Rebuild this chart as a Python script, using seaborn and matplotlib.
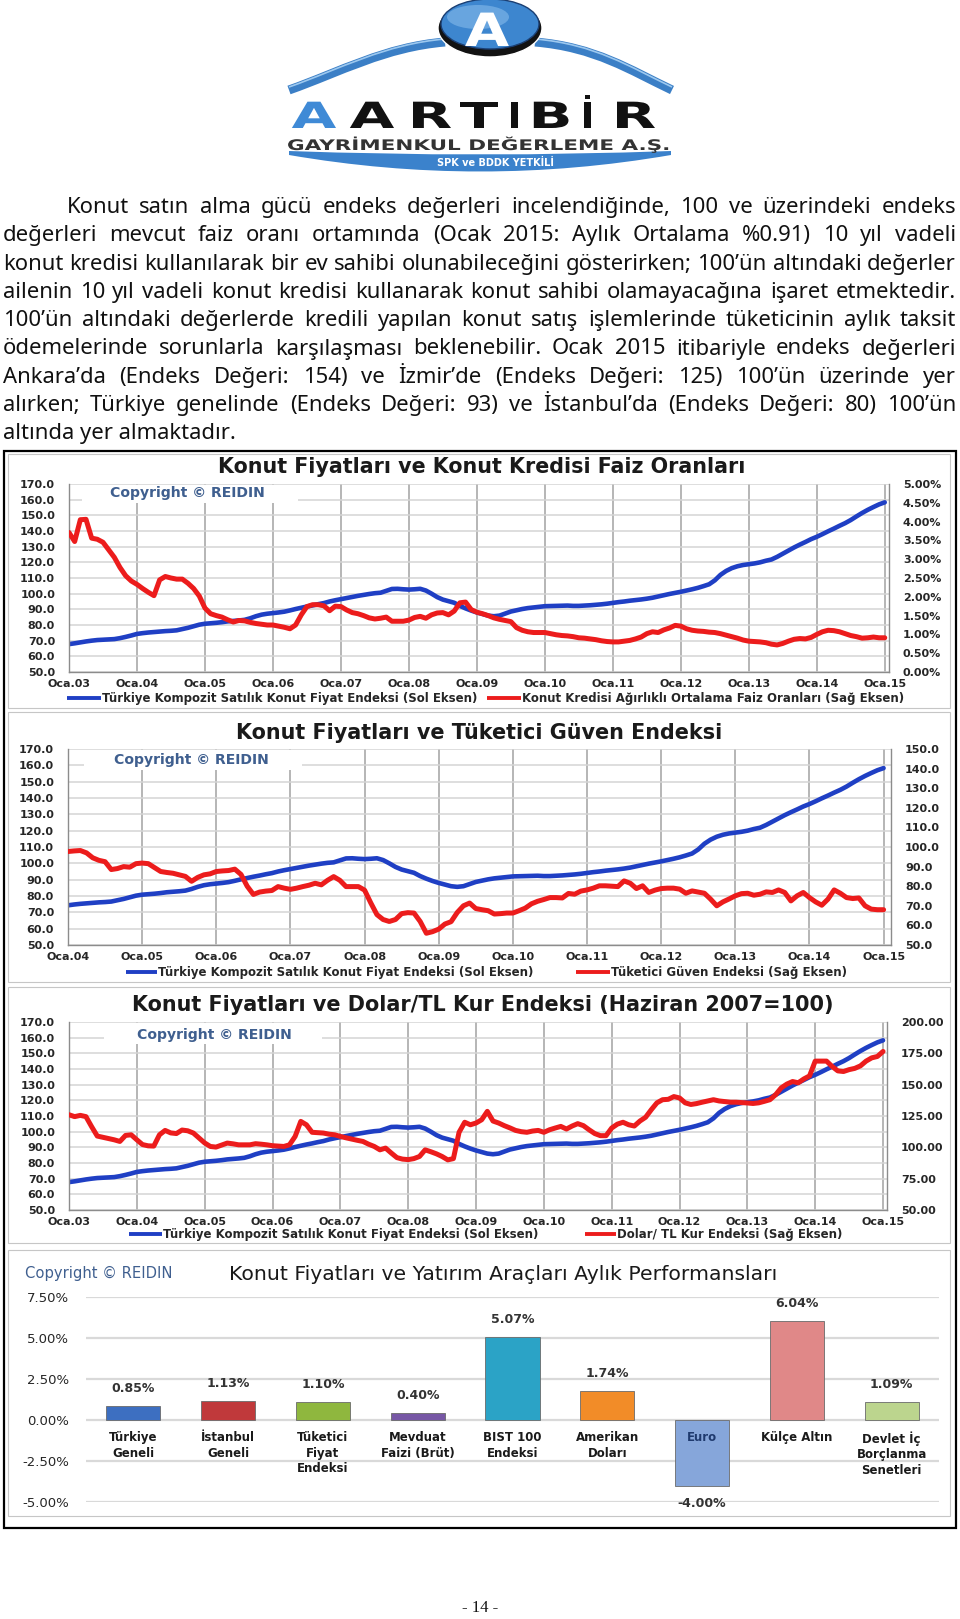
import numpy as np
import seaborn as sns
import matplotlib
matplotlib.use("Agg")
from matplotlib import pyplot as plt
from matplotlib.patches import Rectangle, Ellipse, PathPatch
from matplotlib.path import Path
from matplotlib.patheffects import AbstractPathEffect
from matplotlib.transforms import Affine2D

# ---------------- data ----------------
etiket_03 = ["Oca.03", "Oca.04", "Oca.05", "Oca.06", "Oca.07", "Oca.08", "Oca.09",
             "Oca.10", "Oca.11", "Oca.12", "Oca.13", "Oca.14", "Oca.15"]
etiket_04 = etiket_03[1:]

# Türkiye Kompozit Satılık Konut Fiyat Endeksi, Oca.03 - Oca.15 (aylık)
konut_endeksi = [
    67.8, 68.3, 68.9, 69.5, 70.0, 70.4, 70.6, 70.8, 71.0, 71.6, 72.4, 73.3,
    74.3, 74.8, 75.2, 75.5, 75.8, 76.1, 76.3, 76.6, 77.4, 78.2, 79.2, 80.2,
    80.8, 81.1, 81.4, 81.8, 82.3, 82.6, 82.9, 83.3, 84.3, 85.6, 86.6, 87.2,
    87.6, 88.0, 88.5, 89.3, 90.2, 91.0, 91.8, 92.5, 93.3, 94.0, 95.0, 95.8,
    96.5, 97.2, 97.9, 98.6, 99.2, 99.8, 100.3, 100.6, 101.8, 103.0, 103.1, 102.8,
    102.6, 102.8, 103.1, 102.0, 100.0, 97.8, 96.2, 95.2, 94.2, 92.2, 90.6, 89.2,
    88.0, 87.0, 86.0, 85.6, 86.0, 87.3, 88.6, 89.4, 90.2, 90.8, 91.2, 91.6,
    92.0, 92.1, 92.2, 92.3, 92.4, 92.2, 92.2, 92.4, 92.6, 92.9, 93.2, 93.6,
    94.1, 94.6, 95.0, 95.5, 95.9, 96.3, 96.8, 97.4, 98.2, 99.0, 99.8, 100.5,
    101.2, 102.0, 102.8, 103.7, 104.8, 106.0, 108.5, 112.0, 114.5, 116.3, 117.5, 118.3,
    118.8, 119.3, 120.0, 121.0, 121.8, 123.5, 125.5, 127.5, 129.5, 131.3, 133.0, 134.8,
    136.3, 138.0, 139.8, 141.5, 143.3, 145.0, 147.0, 149.3, 151.5, 153.5, 155.3, 157.0,
    158.3]

# Konut Kredisi Ağırlıklı Ortalama Faiz Oranları (%), Oca.03 - Oca.15
faiz_orani = [
    3.71, 3.47, 4.05, 4.06, 3.56, 3.53, 3.45, 3.25, 3.05, 2.78, 2.56, 2.42,
    2.33, 2.22, 2.12, 2.03, 2.45, 2.54, 2.50, 2.47, 2.47, 2.36, 2.22, 2.02,
    1.70, 1.55, 1.50, 1.46, 1.39, 1.33, 1.37, 1.36, 1.32, 1.29, 1.27, 1.25,
    1.25, 1.22, 1.19, 1.15, 1.25, 1.52, 1.74, 1.79, 1.79, 1.76, 1.63, 1.75,
    1.74, 1.65, 1.58, 1.55, 1.50, 1.44, 1.41, 1.43, 1.46, 1.35, 1.35, 1.35,
    1.38, 1.45, 1.48, 1.43, 1.52, 1.57, 1.58, 1.52, 1.62, 1.84, 1.86, 1.66,
    1.59, 1.55, 1.50, 1.44, 1.40, 1.37, 1.34, 1.18, 1.11, 1.07, 1.05, 1.05,
    1.05, 1.02, 0.99, 0.97, 0.96, 0.94, 0.91, 0.90, 0.88, 0.86, 0.83, 0.81,
    0.80, 0.80, 0.82, 0.84, 0.88, 0.93, 1.02, 1.07, 1.05, 1.12, 1.17, 1.24,
    1.22, 1.15, 1.11, 1.09, 1.08, 1.06, 1.05, 1.02, 0.98, 0.94, 0.90, 0.85,
    0.82, 0.81, 0.80, 0.78, 0.74, 0.72, 0.76, 0.82, 0.87, 0.89, 0.88, 0.92,
    1.00, 1.07, 1.11, 1.10, 1.07, 1.02, 0.97, 0.94, 0.90, 0.91, 0.93, 0.91,
    0.91]

# Tüketici Güven Endeksi, Oca.04 - Oca.15
guven_endeksi = [
    97.7, 98.0, 98.2, 97.0, 94.5, 93.2, 92.5, 88.5, 89.0, 90.0, 89.7, 91.5,
    91.8, 91.5, 89.5, 87.5, 87.0, 86.6, 85.8, 85.0, 82.5, 84.5, 85.8, 86.3,
    87.5, 87.8, 88.0, 88.7, 86.0, 80.0, 75.8, 77.0, 77.5, 77.8, 79.8, 79.0,
    78.4, 79.0, 79.8, 80.5, 81.5, 80.7, 83.0, 84.9, 83.0, 79.8, 79.8, 79.8,
    78.0, 71.5, 65.5, 63.0, 62.0, 63.0, 66.0, 66.5, 66.3, 62.0, 56.0, 56.8,
    58.1, 60.7, 61.9, 66.6, 70.0, 71.4, 68.6, 68.0, 67.5, 65.8, 66.0, 66.3,
    66.3, 67.5, 68.8, 71.0, 72.3, 73.2, 74.2, 74.2, 74.0, 76.3, 75.9, 77.5,
    78.1, 79.0, 80.2, 80.2, 80.0, 79.8, 82.7, 81.5, 78.8, 80.2, 76.8, 78.0,
    78.8, 79.0, 79.0, 78.5, 76.4, 77.6, 77.0, 76.4, 73.4, 70.0, 72.0, 73.5,
    75.1, 76.2, 76.4, 75.4, 75.9, 77.1, 76.8, 78.1, 76.8, 72.5, 75.1, 76.8,
    74.2, 72.0, 70.3, 73.4, 78.1, 76.4, 74.2, 73.7, 74.0, 70.0, 68.3, 68.0,
    68.0]

# Dolar/TL Kur Endeksi (Haziran 2007=100), Oca.03 - Oca.15
dolar_endeksi = [
    126.0, 124.5, 125.5, 124.5, 116.5, 109.0, 108.0, 107.0, 106.0, 104.7, 109.5, 110.0,
    106.0, 102.2, 101.2, 101.0, 110.0, 113.5, 111.5, 111.0, 113.8, 113.2, 111.4, 107.5,
    103.5, 100.7, 100.2, 101.8, 103.4, 102.8, 102.0, 102.0, 102.0, 102.9, 102.5, 102.0,
    101.3, 101.0, 100.7, 102.0, 108.7, 120.7, 118.0, 112.0, 111.7, 111.4, 110.5, 110.0,
    108.7, 107.6, 106.6, 105.6, 104.7, 102.5, 100.7, 98.0, 99.4, 95.5, 91.8, 90.6,
    90.2, 91.0, 92.7, 98.0, 96.5, 94.8, 92.7, 90.0, 91.0, 112.0, 120.0, 118.0,
    119.4, 122.0, 128.7, 121.0, 119.4, 117.3, 115.5, 113.5, 112.5, 112.0, 113.0, 113.5,
    112.0, 114.0, 115.4, 116.7, 114.6, 117.0, 118.9, 117.3, 114.0, 111.0, 109.3, 109.3,
    115.4, 118.5, 120.0, 118.0, 117.0, 121.0, 124.0, 130.0, 135.5, 138.0, 138.3, 140.5,
    139.4, 135.5, 134.2, 134.9, 136.0, 137.0, 138.0, 137.0, 136.5, 136.0, 136.0, 135.7,
    135.4, 135.0, 135.5, 136.7, 138.0, 142.0, 147.5, 150.5, 152.5, 151.5, 154.6, 157.0,
    168.8, 168.8, 168.8, 164.5, 161.0, 160.5, 162.0, 163.0, 165.0, 168.8, 171.4, 172.5,
    176.5]

araclar = ["Türkiye\nGeneli", "İstanbul\nGeneli", "Tüketici\nFiyat\nEndeksi",
           "Mevduat\nFaizi (Brüt)", "BIST 100\nEndeksi", "Amerikan\nDoları",
           "Euro", "Külçe Altın", "Devlet İç\nBorçlanma\nSenetleri"]
getiriler = [0.85, 1.13, 1.10, 0.40, 5.07, 1.74, -4.00, 6.04, 1.09]
arac_renkleri = ["#3d6fc1", "#c0393b", "#8fb73e", "#7757a5", "#2ba3c6",
                 "#f28c28", "#86a6da", "#e08888", "#bcd58e"]

paragraf = [
    "Konut satın alma gücü endeks değerleri incelendiğinde, 100 ve üzerindeki endeks",
    "değerleri mevcut faiz oranı ortamında (Ocak 2015: Aylık Ortalama %0.91) 10 yıl vadeli",
    "konut kredisi kullanılarak bir ev sahibi olunabileceğini gösterirken; 100’ün altındaki değerler",
    "ailenin 10 yıl vadeli konut kredisi kullanarak konut sahibi olamayacağına işaret etmektedir.",
    "100’ün altındaki değerlerde kredili yapılan konut satış işlemlerinde tüketicinin aylık taksit",
    "ödemelerinde sorunlarla karşılaşması beklenebilir. Ocak 2015 itibariyle endeks değerleri",
    "Ankara’da (Endeks Değeri: 154) ve İzmir’de (Endeks Değeri: 125) 100’ün üzerinde yer",
    "alırken; Türkiye genelinde (Endeks Değeri: 93) ve İstanbul’da (Endeks Değeri: 80) 100’ün",
    "altında yer almaktadır.",
]

MAVI = "#1f3fc4"
KIRMIZI = "#ec1c1c"
YAZI = "#262626"
COPY = "#3f5f8f"

sns.set_style("white")
plt.rcParams["font.family"] = ["DejaVu Sans"]

W, H = 960, 1619
fig = plt.figure(figsize=(W / 100, H / 100), dpi=100)
renderer = fig.canvas.get_renderer()


class Genis(AbstractPathEffect):
    """stretch text glyphs horizontally around a pixel x (logo lettering is wide)"""

    def __init__(self, sx, x_px):
        super().__init__()
        self.sx = sx
        self.x_px = x_px

    def draw_path(self, renderer, gc, tpath, affine, rgbFace=None):
        a = affine + Affine2D().translate(-self.x_px, 0).scale(self.sx, 1).translate(self.x_px, 0)
        renderer.draw_path(gc, tpath, a, rgbFace)


def fbox(x0, y0, x1, y1):
    return [x0 / W, 1 - y1 / H, (x1 - x0) / W, (y1 - y0) / H]


def ftext(x, y, s, **kw):
    return fig.text(x / W, 1 - y / H, s, **kw)


def genislik(t):
    return t.get_window_extent(renderer).width


def fit_text(x, y, s, width, **kw):
    t = ftext(x, y, s, fontsize=10, **kw)
    t.set_fontsize(10 * width / genislik(t))
    return t


# page layer for frames, legend keys and logo (pixel coordinates, y down)
page = fig.add_axes([0, 0, 1, 1], zorder=-5)
page.set_xlim(0, W)
page.set_ylim(H, 0)
page.axis("off")

# ---------------- logo ----------------
kod = [Path.MOVETO, Path.CURVE4, Path.CURVE4, Path.CURVE4]
for pts in ([(289, 90), (340, 72), (385, 47), (445, 42)],
            [(535, 42), (595, 47), (630, 70), (672, 90)]):
    page.add_patch(PathPatch(Path(pts, kod), fill=False, ec="#3b7fc6", lw=6.5))
    page.add_patch(PathPatch(Path([(x, y - 3) for x, y in pts], kod), fill=False,
                             ec="#9cc8ef", lw=1.2))
page.add_patch(Ellipse((490, 28), 104, 58, fc="#121212"))
page.add_patch(Ellipse((490, 24), 98, 50, fc="#3d86cf", ec="#1b3f73", lw=1))
page.add_patch(Ellipse((478, 17), 62, 24, fc="#8cc0ee", alpha=0.55, lw=0))
a_harf = ftext(487, 46, "A", fontsize=33, fontweight="bold", color="white",
               ha="center", va="baseline")
a_harf.set_path_effects([Genis(1.25, 487)])

harfler = [("A", 314, "#3f8ad6"), ("A", 372, "#111111"), ("R", 430, "#111111"),
           ("T", 479, "#111111"), ("I", 514.5, "#111111"), ("B", 550.5, "#111111"),
           ("İ", 587.5, "#111111"), ("R", 634, "#111111")]
for h, hx, hc in harfler:
    t = ftext(hx, 128, h, fontsize=26, fontweight="bold", color=hc, ha="center", va="baseline")
    t.set_path_effects([Genis(1.6 if h not in ("I", "İ") else 1.1, hx)])

gd = ftext(480, 150, "GAYRİMENKUL DEĞERLEME A.Ş.", fontsize=10.5, ha="center",
           va="baseline", fontweight="bold", color="#333333")
gd.set_path_effects([Genis(386 / genislik(gd), 480)])
serit = Path([(289, 151), (480, 158), (671, 151), (671, 155), (480, 188), (289, 155), (289, 151)],
             [Path.MOVETO, Path.CURVE3, Path.CURVE3, Path.LINETO, Path.CURVE3, Path.CURVE3,
              Path.CLOSEPOLY])
page.add_patch(PathPatch(serit, fc="#3b82cc", ec="none"))
fit_text(495, 163, "SPK ve BDDK YETKİLİ", 118, ha="center", va="center",
         fontweight="bold", color="white")

# ---------------- paragraph (justified) ----------------
para_font = ["Noto Sans", "DejaVu Sans"]
sol_x, sag_x = 3, 956
ilk_x = 67
boyut = 16
for i, satir in enumerate(paragraf[:-1]):
    x0 = ilk_x if i == 0 else sol_x
    t = ftext(0, 0, satir, fontsize=10, family=para_font)
    boyut = min(boyut, 10 * (sag_x - x0) / genislik(t) * 0.995)
    t.remove()

for i, satir in enumerate(paragraf):
    y = 213 + i * 28.3
    x0 = ilk_x if i == 0 else sol_x
    if i == len(paragraf) - 1:
        ftext(x0, y, satir, fontsize=boyut, family=para_font, va="baseline", color="#111111")
        continue
    kelimeler = [ftext(0, y, k, fontsize=boyut, family=para_font, va="baseline",
                       color="#111111") for k in satir.split(" ")]
    ws = [genislik(k) for k in kelimeler]
    bosluk = (sag_x - x0 - sum(ws)) / (len(ws) - 1)
    x = x0
    for k, w in zip(kelimeler, ws):
        k.set_x(x / W)
        x += w + bosluk

# ---------------- frames ----------------
page.add_patch(Rectangle((4, 451), 952, 1077, fill=False, ec="black", lw=1.6))
for x0, y0, x1, y1 in [(8, 454, 950, 708), (8, 712, 950, 982),
                       (8, 987, 950, 1243), (8, 1250, 950, 1516)]:
    page.add_patch(Rectangle((x0, y0), x1 - x0, y1 - y0, fill=False, ec="#c6c6c6", lw=0.8))


# ---------------- line charts ----------------
def cizgi_grafik(box, sol, sag, xmax, etiketler, sag_lim, sag_ticks, sag_fmt):
    ax = fig.add_axes(fbox(*box))
    sns.lineplot(x=np.arange(len(sol)), y=sol, ax=ax, color=MAVI, linewidth=3.3)
    ax2 = ax.twinx()
    sns.lineplot(x=np.arange(len(sag)), y=sag, ax=ax2, color=KIRMIZI, linewidth=3.6)
    ax.set_xlim(0, xmax)
    ax.set_ylim(50, 170)
    sol_ticks = np.arange(50, 171, 10)
    ax.set_yticks(sol_ticks)
    ax.set_yticklabels([f"{v:.1f}" for v in sol_ticks], fontweight="bold")
    ax.set_xticks(np.arange(0, len(sol), 12))
    ax.set_xticklabels(etiketler, fontweight="bold")
    ax.grid(axis="y", color="#d5d5d5", lw=1.1)
    ax.grid(axis="x", color="#b5b5b5", lw=1.4)
    ax.set_axisbelow(True)
    ax2.set_ylim(*sag_lim)
    ax2.set_yticks(sag_ticks)
    ax2.set_yticklabels([sag_fmt.format(v) for v in sag_ticks], fontweight="bold")
    for a in (ax, ax2):
        a.set_xlabel("")
        a.set_ylabel("")
        a.tick_params(axis="y", length=0, pad=10, labelsize=8, labelcolor=YAZI)
        a.tick_params(axis="x", length=3, pad=2, labelsize=8, labelcolor=YAZI, color="#8c8c8c")
        for s in a.spines.values():
            s.set_visible(False)
    ax.spines["left"].set_visible(True)
    ax.spines["bottom"].set_visible(True)
    ax2.spines["right"].set_visible(True)
    for s in (ax.spines["left"], ax.spines["bottom"], ax2.spines["right"]):
        s.set_color("#8c8c8c")
        s.set_linewidth(1.0)
    return ax


cizgi_grafik((69, 484, 889, 672), konut_endeksi, faiz_orani, 144.75, etiket_03,
             (0, 5), np.arange(0, 5.01, 0.5), "{:.2f}%")
cizgi_grafik((68, 749, 891, 945), konut_endeksi[12:], guven_endeksi, 133.2, etiket_04,
             (50, 150), np.arange(50, 151, 10), "{:.1f}")
cizgi_grafik((69, 1022, 887, 1210), konut_endeksi, dolar_endeksi, 144.7, etiket_03,
             (50, 200), np.arange(50, 201, 25), "{:.2f}")

fit_text(481.5, 467, "Konut Fiyatları ve Konut Kredisi Faiz Oranları", 527,
         ha="center", va="center", fontweight="bold", color="#1a1a1a")
fit_text(479.5, 733, "Konut Fiyatları ve Tüketici Güven Endeksi", 487,
         ha="center", va="center", fontweight="bold", color="#1a1a1a")
fit_text(482.5, 1005, "Konut Fiyatları ve Dolar/TL Kur Endeksi (Haziran 2007=100)", 701,
         ha="center", va="center", fontweight="bold", color="#1a1a1a")

# copyright boxes over the gridlines
for bx0, by0, bx1, by1, tx, ty in [(82, 485, 298, 503, 110, 493),
                                   (84, 750, 302, 770, 114, 760),
                                   (104, 1023, 322, 1044, 137, 1035)]:
    fig.add_artist(Rectangle((bx0 / W, 1 - by1 / H), (bx1 - bx0) / W, (by1 - by0) / H,
                             transform=fig.transFigure, fc="white", ec="none", zorder=2))
    fit_text(tx, ty, "Copyright © REIDIN", 155, ha="left", va="center",
             fontweight="bold", color=COPY, zorder=4)

# legends
mavi_etiket = "Türkiye Kompozit Satılık Konut Fiyat Endeksi (Sol Eksen)"
olcum = ftext(0, 0, mavi_etiket, fontsize=10, fontweight="bold")
lg_boyut = 10 * 374 / genislik(olcum)
olcum.remove()
for ly, mx0, mx1, kx0, kx1, kirmizi_etiket in [
        (698, 67, 101, 487, 521, "Konut Kredisi Ağırlıklı Ortalama Faiz Oranları (Sağ Eksen)"),
        (972, 126, 157, 576, 610, "Tüketici Güven Endeksi (Sağ Eksen)"),
        (1234, 129, 162, 585, 616, "Dolar/ TL Kur Endeksi (Sağ Eksen)")]:
    page.plot([mx0, mx1], [ly, ly], color=MAVI, lw=2.8, solid_capstyle="butt")
    page.plot([kx0, kx1], [ly, ly], color=KIRMIZI, lw=2.8, solid_capstyle="butt")
    ftext(mx1 + 1, ly, mavi_etiket, fontsize=lg_boyut, fontweight="bold",
          va="center", color=YAZI)
    ftext(kx1 + 1, ly, kirmizi_etiket, fontsize=lg_boyut, fontweight="bold",
          va="center", color=YAZI)

# ---------------- bar chart ----------------
ax4 = fig.add_axes(fbox(86, 1297, 939, 1502))
sns.barplot(x=araclar, y=getiriler, hue=araclar, palette=arac_renkleri, legend=False,
            ax=ax4, width=0.57, saturation=1, edgecolor="#6a6a6a", linewidth=0.6)
ax4.set_xlim(-0.5, 8.5)
ax4.set_ylim(-5, 7.5)
bar_ticks = [-5, -2.5, 0, 2.5, 5, 7.5]
ax4.set_yticks(bar_ticks)
ax4.set_yticklabels([f"{v:.2f}%" for v in bar_ticks])
ax4.set_xticks([])
ax4.set_xlabel("")
ax4.set_ylabel("")
ax4.yaxis.grid(True, color="#d9d9d9", lw=1.6)
ax4.set_axisbelow(True)
ax4.tick_params(axis="y", length=0, pad=12, labelsize=9.5, labelcolor=YAZI)
for s in ax4.spines.values():
    s.set_visible(False)
for cont in ax4.containers:
    ax4.bar_label(cont, labels=[f"{v:.2f}%" for v in cont.datavalues], padding=8,
                  fontsize=9, fontweight="bold", color="#333333")
for i, (ad, v) in enumerate(zip(araclar, getiriler)):
    ax4.annotate(ad, (i, 0), xytext=(0, -8), textcoords="offset points", ha="center",
                 va="top", fontsize=8.5, fontweight="bold", linespacing=1.25,
                 color="#1f3a6e" if v < 0 else "#1a1a1a")

fit_text(503.5, 1274, "Konut Fiyatları ve Yatırım Araçları Aylık Performansları", 547,
         ha="center", va="center", color="#1a1a1a")
fit_text(25, 1273, "Copyright © REIDIN", 147, ha="left", va="center", color=COPY)

# page number
ftext(480, 1608, "- 14 -", family=["Liberation Serif", "DejaVu Serif"], fontsize=12,
      ha="center", va="center", color="#111111")

fig.savefig("out.png", dpi=100)
